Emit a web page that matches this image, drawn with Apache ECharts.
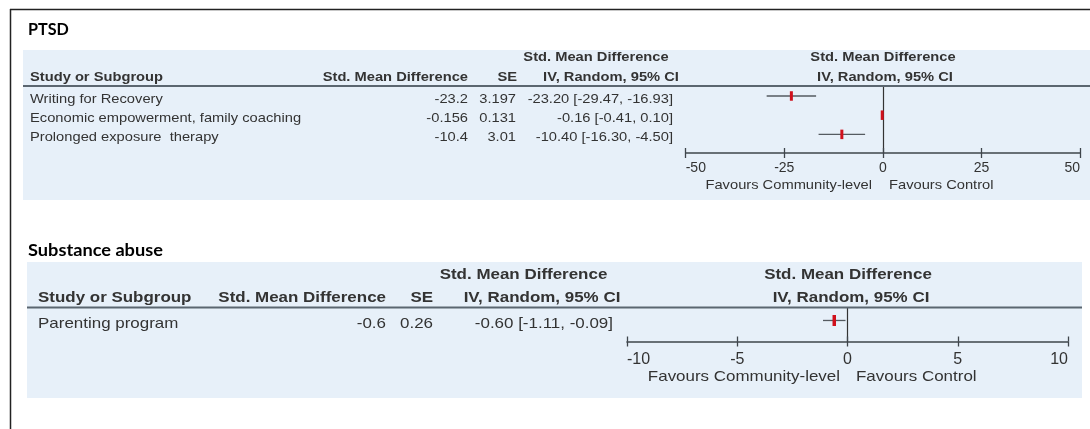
<!DOCTYPE html>
<html>
<head>
<meta charset="utf-8">
<style>
  html, body { margin: 0; padding: 0; background: #ffffff; }
  #chart { width: 1090px; height: 429px; }
</style>
<script src="https://cdn.jsdelivr.net/npm/echarts@6/dist/echarts.min.js"></script>
</head>
<body>
<div id="chart"></div>
<script>
// PTSD studies
const ptsdStudies = ['Writing for Recovery', 'Economic empowerment, family coaching', 'Prolonged exposure  therapy'];
const ptsdSmd = [-23.2, -0.156, -10.4];
const ptsdSe = ['3.197', '0.131', '3.01'];
const ptsdLow = [-29.47, -0.41, -16.30];
const ptsdHigh = [-16.93, 0.10, -4.50];
const ptsdTicks = [-50, -25, 0, 25, 50];

// Substance abuse studies
const subStudies = ['Parenting program'];
const subSmd = [-0.6];
const subSe = ['0.26'];
const subLow = [-1.11];
const subHigh = [-0.09];
const subTicks = [-10, -5, 0, 5, 10];

const TXT = '#333333';
const SANS = '"Liberation Sans", Arial, sans-serif';
const TITLE = 'Lato, "Noto Sans", sans-serif';
const WIDE = 1.13;   // table lettering is set slightly wide

function ciText(m, lo, hi) {
  return m.toFixed(2) + ' [' + lo.toFixed(2) + ', ' + hi.toFixed(2) + ']';
}

// text anchored at (x, y); the element's own origin is the anchor so it stretches from there
function txt(x, y, s, size, align, bold, opts) {
  opts = opts || {};
  return {
    type: 'text', z: 5,
    x: x, y: y,
    scaleX: opts.sx || WIDE, scaleY: 1,
    style: {
      text: s, x: 0, y: 0,
      font: (bold ? 'bold ' : '') + size + 'px ' + (opts.font || SANS),
      fill: opts.color || TXT,
      align: align, verticalAlign: 'middle',
      textAlign: align, textVerticalAlign: 'middle'
    }
  };
}
function hline(x1, x2, y, w, c) {
  return { type: 'line', z: 4, shape: { x1: x1, y1: y, x2: x2, y2: y }, style: { stroke: c, lineWidth: w } };
}
function vline(x, y1, y2, w, c) {
  return { type: 'line', z: 4, shape: { x1: x, y1: y1, x2: x, y2: y2 }, style: { stroke: c, lineWidth: w } };
}

const graphics = [];
// page frame
graphics.push(hline(10, 1090, 9.5, 1.5, '#222'));
graphics.push(vline(10.5, 9, 429, 1.5, '#222'));
// panel backgrounds
graphics.push({ type: 'rect', z: -10, shape: { x: 23, y: 50, width: 1067, height: 150 }, style: { fill: '#e7f0f9' } });
graphics.push({ type: 'rect', z: -10, shape: { x: 27, y: 262, width: 1055, height: 136 }, style: { fill: '#e7f0f9' } });
// header rules
graphics.push(hline(23, 1090, 86, 2, '#5b6670'));
graphics.push(hline(27, 1082, 307.5, 2, '#5b6670'));

// PTSD panel text
graphics.push(txt(28, 30, 'PTSD', 17, 'left', true, { font: TITLE, color: '#000', sx: 0.95 }));
graphics.push(txt(596, 57.5, 'Std. Mean Difference', 13, 'center', true));
graphics.push(txt(883, 57.5, 'Std. Mean Difference', 13, 'center', true));
graphics.push(txt(30, 77, 'Study or Subgroup', 13, 'left', true));
graphics.push(txt(468, 77, 'Std. Mean Difference', 13, 'right', true));
graphics.push(txt(517, 77, 'SE', 13, 'right', true));
graphics.push(txt(611, 77, 'IV, Random, 95% CI', 13, 'center', true));
graphics.push(txt(885, 77, 'IV, Random, 95% CI', 13, 'center', true));
ptsdStudies.forEach(function (s, i) {
  const y = 99.5 + i * 19;
  graphics.push(txt(30, y, s, 13, 'left'));
  graphics.push(txt(468, y, String(ptsdSmd[i]), 13, 'right'));
  graphics.push(txt(516, y, ptsdSe[i], 13, 'right'));
  graphics.push(txt(673, y, ciText(ptsdSmd[i], ptsdLow[i], ptsdHigh[i]), 13, 'right'));
});
graphics.push(txt(872, 185, 'Favours Community-level', 13, 'right'));
graphics.push(txt(889, 185, 'Favours Control', 13, 'left'));

// Substance abuse panel text
graphics.push(txt(28, 250.5, 'Substance abuse', 17, 'left', true, { font: TITLE, color: '#000', sx: 1.07 }));
graphics.push(txt(523.5, 275, 'Std. Mean Difference', 15, 'center', true));
graphics.push(txt(848, 275, 'Std. Mean Difference', 15, 'center', true));
graphics.push(txt(38, 298, 'Study or Subgroup', 15, 'left', true));
graphics.push(txt(386, 298, 'Std. Mean Difference', 15, 'right', true));
graphics.push(txt(433, 298, 'SE', 15, 'right', true));
graphics.push(txt(542, 298, 'IV, Random, 95% CI', 15, 'center', true));
graphics.push(txt(851, 298, 'IV, Random, 95% CI', 15, 'center', true));
subStudies.forEach(function (s, i) {
  const y = 324 + i * 22;
  graphics.push(txt(38, y, s, 15, 'left'));
  graphics.push(txt(386, y, String(subSmd[i]), 15, 'right'));
  graphics.push(txt(433, y, subSe[i], 15, 'right'));
  graphics.push(txt(613, y, ciText(subSmd[i], subLow[i], subHigh[i]), 15, 'right'));
});
graphics.push(txt(840, 376.5, 'Favours Community-level', 15, 'right'));
graphics.push(txt(856, 376.5, 'Favours Control', 15, 'left'));

// forest-plot row: CI whisker plus a small red estimate marker
function forestRenderer(markW, markH) {
  return function (params, api) {
    const row = api.value(3);
    const p = api.coord([api.value(0), row]);
    const a = api.coord([api.value(1), row]);
    const b = api.coord([api.value(2), row]);
    return {
      type: 'group',
      children: [
        { type: 'line', shape: { x1: a[0], y1: a[1], x2: b[0], y2: b[1] }, style: { stroke: '#555b61', lineWidth: 1.3 } },
        { type: 'rect', shape: { x: p[0] - markW / 2, y: p[1] - markH / 2, width: markW, height: markH }, style: { fill: '#d0101c' } }
      ]
    };
  };
}

function rows(smd, lo, hi) {
  return smd.map(function (m, i) { return [m, lo[i], hi[i], i]; });
}

function xAxisPair(gridIndex, ticks, step, fontSize, margin) {
  const base = {
    gridIndex: gridIndex, type: 'value', position: 'bottom',
    min: ticks[0], max: ticks[ticks.length - 1], interval: step,
    splitLine: { show: false }
  };
  return [
    Object.assign({}, base, {
      axisLine: { show: true, onZero: false, lineStyle: { color: '#3f454b', width: 1.6 } },
      axisTick: { show: true, inside: false, length: 5, lineStyle: { color: '#3f454b', width: 1.3 } },
      axisLabel: {
        show: true, color: TXT, fontSize: fontSize, fontFamily: SANS, margin: margin,
        alignMinLabel: 'left', alignMaxLabel: 'right',
        formatter: function (v) { return String(v); }
      }
    }),
    Object.assign({}, base, {
      axisLine: { show: false, onZero: false },
      axisTick: { show: true, inside: true, length: 5, lineStyle: { color: '#3f454b', width: 1.3 } },
      axisLabel: { show: false }
    })
  ];
}

function yAxisFor(gridIndex, min, max) {
  return {
    gridIndex: gridIndex, type: 'value', inverse: true, min: min, max: max,
    axisLine: { show: true, onZero: true, lineStyle: { color: '#333', width: 1.2 } },
    axisTick: { show: false }, axisLabel: { show: false }, splitLine: { show: false }
  };
}

const chart = echarts.init(document.getElementById('chart'), null, { renderer: 'canvas' });
chart.setOption({
  animation: false,
  backgroundColor: 'transparent',
  graphic: { elements: graphics },
  grid: [
    { left: 685.7, width: 394.3, top: 86, height: 67, containLabel: false },
    { left: 627, width: 441, top: 307.5, height: 34, containLabel: false }
  ],
  xAxis: xAxisPair(0, ptsdTicks, 25, 14, 8).concat(xAxisPair(1, subTicks, 5, 16, 10)),
  yAxis: [yAxisFor(0, -0.52, 2.97), yAxisFor(1, -0.5, 0.81)],
  series: [
    {
      type: 'custom', xAxisIndex: 0, yAxisIndex: 0, z: 3,
      renderItem: forestRenderer(3, 9.5),
      data: rows(ptsdSmd, ptsdLow, ptsdHigh)
    },
    {
      type: 'custom', xAxisIndex: 2, yAxisIndex: 1, z: 3,
      renderItem: forestRenderer(3.5, 11),
      data: rows(subSmd, subLow, subHigh)
    }
  ]
});
</script>
</body>
</html>
